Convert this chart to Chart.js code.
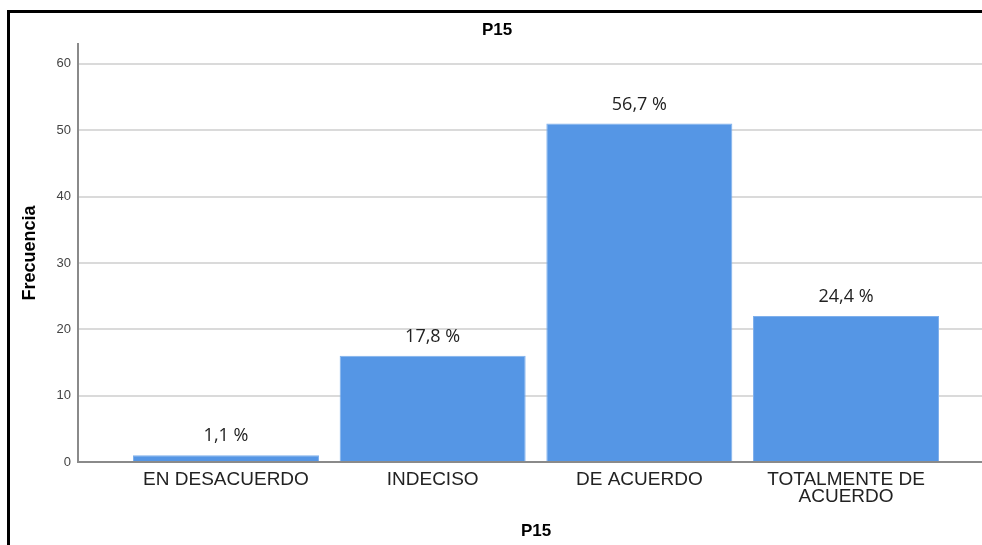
<!DOCTYPE html>
<html>
<head>
<meta charset="utf-8">
<script src="https://cdn.jsdelivr.net/npm/chart.js@4"></script>
<style>
    html, body { margin: 0; padding: 0; background: #fff; overflow: hidden; }
    #wrap { position: relative; width: 982px; height: 545px; overflow: hidden; }
    #frame { position: absolute; left: 7px; top: 10px; width: 1000px; height: 600px;
             border-left: 3px solid #000; border-top: 3px solid #000; pointer-events: none; }
    canvas { position: absolute; left: 0; top: 0; }
</style>
</head>
<body>
<div id="wrap">
    <canvas id="chart" width="1006" height="545"></canvas>
    <div id="frame"></div>
</div>
<script>
// datos del gráfico P15
const categories = ['EN DESACUERDO', 'INDECISO', 'DE ACUERDO', ['TOTALMENTE DE', 'ACUERDO']];
const frecuencias = [1, 16, 51, 22];
const yTicks = [0, 10, 20, 30, 40, 50, 60];

const total = frecuencias.reduce((a, b) => a + b, 0);
const pctLabels = frecuencias.map(v => (v / total * 100).toFixed(1).replace('.', ',') + ' %');

Chart.defaults.font.family = "'Liberation Sans', Arial, sans-serif";

// etiquetas de porcentaje encima de cada barra
const barLabels = {
    id: 'barLabels',
    afterDatasetsDraw(chart) {
        const ctx = chart.ctx;
        const meta = chart.getDatasetMeta(0);
        ctx.save();
        ctx.font = "18px 'Open Sans', sans-serif";
        ctx.fillStyle = '#222';
        ctx.textAlign = 'center';
        ctx.textBaseline = 'middle';
        meta.data.forEach((bar, i) => ctx.fillText(pctLabels[i], bar.x, bar.y - 19));
        ctx.restore();
    }
};

new Chart(document.getElementById('chart'), {
    type: 'bar',
    data: {
        datasets: [{
            data: frecuencias.map((v, i) => ({ x: i, y: v })),
            backgroundColor: '#5596e5',
            borderColor: '#7fb0ec',
            borderWidth: 1,
            categoryPercentage: 1,
            barPercentage: 0.9
        }]
    },
    options: {
        responsive: false,
        animation: false,
        layout: { padding: { left: 0, right: 12, top: 0, bottom: 0 } },
        plugins: {
            legend: { display: false },
            tooltip: { enabled: false },
            title: {
                display: true, text: 'P15', color: '#000',
                font: { size: 17, weight: 'bold' },
                padding: { top: 20.1, bottom: 3.5 }
            }
        },
        scales: {
            x: {
                type: 'linear', min: -0.716, max: 3.716, offset: false,
                afterBuildTicks: s => { s.ticks = categories.map((c, i) => ({ value: i })); },
                afterFit: s => { s.height = 83; },
                grid: { display: false, drawTicks: false },
                border: { display: true, color: '#8a8a8a', width: 2 },
                ticks: {
                    callback: v => categories[v],
                    color: '#222', padding: 9.5, maxRotation: 0, autoSkip: false,
                    font: { size: 19, lineHeight: 0.87 }
                },
                title: {
                    display: true, text: 'P15', color: '#000',
                    font: { size: 17, weight: 'bold' },
                    padding: { top: 0, bottom: 3.8 }
                }
            },
            y: {
                min: 0, max: 63,
                afterBuildTicks: s => { s.ticks = yTicks.map(v => ({ value: v })); },
                afterFit: s => { s.width = 78; },
                grid: { color: '#dadada', lineWidth: 2, drawTicks: false },
                border: { display: true, color: '#8a8a8a', width: 2 },
                ticks: { color: '#444', padding: 7, font: { size: 13 } },
                title: {
                    display: true, text: 'Frecuencia', color: '#000',
                    font: { size: 18, weight: 'bold' },
                    padding: { top: 19.2, bottom: 0 }
                }
            }
        }
    },
    plugins: [barLabels]
});
</script>
</body>
</html>
